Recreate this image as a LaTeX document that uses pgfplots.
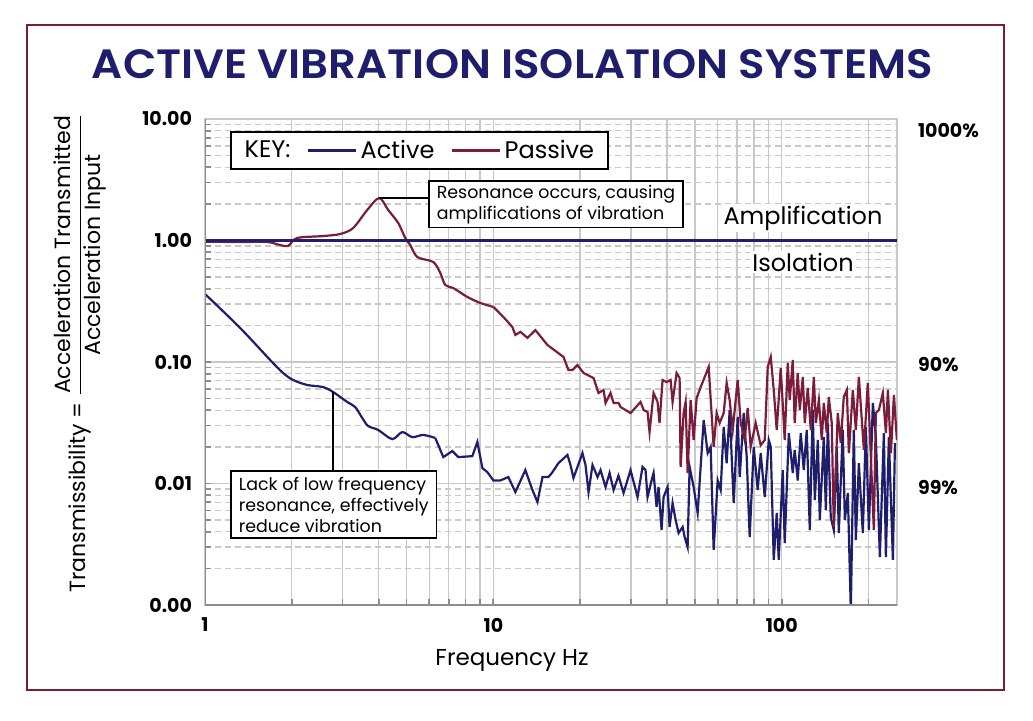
\documentclass[border=0pt]{standalone}
\usepackage{pgfplots}
\pgfplotsset{compat=1.18}
\usepackage{fontspec}
\setmainfont{Poppins}
\newfontfamily\titlefont{Poppins SemiBold}
\definecolor{navy}{RGB}{31,30,108}
\definecolor{maroon}{RGB}{122,28,58}
\definecolor{gridgray}{RGB}{200,200,200}
\definecolor{axgray}{RGB}{140,140,140}

\begin{document}
\begin{tikzpicture}
\path[use as bounding box, fill=white] (0,0) rectangle (516.5pt,360pt);
\begin{axis}[
  at={(102.5pt,57.5pt)}, anchor=south west,
  scale only axis, width=346pt, height=243pt,
  xmode=log, ymode=log,
  xmin=1, xmax=251, ymin=0.001, ymax=10,
  xtick={1,10,100}, xticklabels={1,10,100},
  minor xtick={2,3,4,5,6,7,8,9,20,30,40,50,60,70,80,90,200},
  ytick={0.001,0.01,0.1,1,10}, yticklabels={0.00,0.01,0.10,1.00,10.00},
  minor ytick={0.002,0.003,0.004,0.005,0.006,0.007,0.008,0.009,0.02,0.03,0.04,0.05,0.06,0.07,0.08,0.09,0.2,0.3,0.4,0.5,0.6,0.7,0.8,0.9,2,3,4,5,6,7,8,9},
  grid=both,
  major grid style={gridgray, line width=0.7pt},
  minor x grid style={gridgray, line width=0.7pt},
  minor y grid style={gridgray, line width=0.6pt, dash pattern=on 3pt off 2pt},
  axis line style={gridgray, line width=0.7pt},
  tick align=inside, tick pos=left,
  major tick length=3pt, minor tick length=3pt,
  tick style={axgray, line width=0.9pt},
  ticklabel style={font=\fontsize{9.5}{11}\selectfont\bfseries},
  xticklabel style={yshift=-3pt},
  yticklabel style={xshift=-3pt},
  legend columns=3,
  legend style={at={(0.036,0.975)}, anchor=north west, draw=black, line width=0.8pt, fill=white,
    font=\fontsize{12}{14}\selectfont, inner xsep=5pt, inner ysep=2pt,
    /tikz/every even column/.append style={column sep=6pt}},
  legend image code/.code={\draw[#1] (0pt,0pt) -- (24pt,0pt);},
]
\addlegendimage{empty legend}
\addlegendentry{KEY:}

% Active (smooth part)
\addplot[navy, line width=1.1pt, smooth, tension=0.5] coordinates {
(1.000,0.363) (1.323,0.191) (1.682,0.104) (1.866,0.0812) (2.021,0.0711) (2.261,0.0647)
(2.569,0.0622) (2.783,0.0566) (3.112,0.0469) (3.318,0.0426) (3.510,0.0346) (3.681,0.0297)
(3.987,0.0276) (4.460,0.0232) (4.831,0.0265) (5.233,0.0241) (5.713,0.0251) (6.290,0.0237)
};
\addlegendentry{Active}
% Active (noisy part)
\addplot[navy, line width=1.1pt, forget plot] coordinates {
(6.290,0.0237) (6.705,0.0165) (7.205,0.0185) (7.559,0.0165) (8.455,0.0168) (8.800,0.0220)
(9.158,0.0134) (9.532,0.0124) (10.00,0.0106) (10.57,0.0106) (11.27,0.0113) (11.92,0.00851)
(12.91,0.0129) (13.66,0.00884) (14.22,0.00704) (14.80,0.0113) (15.52,0.0113) (16.03,0.0124)
(16.81,0.0147) (18.07,0.0172) (18.51,0.0142) (18.96,0.0111) (20.37,0.0178) (20.87,0.0142)
(21.38,0.00851) (22.07,0.0142) (22.97,0.0113) (23.53,0.0129) (24.49,0.00936) (25.29,0.0122)
(26.11,0.00884) (27.16,0.0116) (28.28,0.00835) (29.90,0.0129) (31.62,0.00774) (32.91,0.0137)
(33.71,0.0129) (34.25,0.00774) (35.37,0.0106) (35.94,0.0122) (36.81,0.00641) (37.40,0.00936)
(38.31,0.00414) (38.93,0.00774) (40.19,0.00936) (40.83,0.00439) (41.83,0.00691) (42.85,0.00501)
(43.89,0.00391) (45.32,0.00439) (46.05,0.00363) (47.16,0.00300) (47.92,0.0137) (49.48,0.00936)
(51.09,0.00572) (53.62,0.0333) (55.36,0.0178) (56.69,0.0200) (58.06,0.00284) (59.95,0.0106)
(61.41,0.00884) (62.90,0.0292) (64.42,0.0147) (65.98,0.0403) (68.13,0.00691) (70.35,0.0353)
(71.49,0.0113) (73.82,0.0380) (75.60,0.0165) (77.42,0.00363) (79.97,0.0200) (82.53,0.00884)
(84.53,0.0178) (87.30,0.00774) (90.14,0.0228) (91.60,0.0200) (93.80,0.00235) (96.08,0.00572)
(97.63,0.00235) (100.8,0.0129) (102.4,0.00324) (105.8,0.0260) (109.2,0.0122) (110.9,0.0189)
(113.6,0.0106) (116.4,0.0260) (119.2,0.0129) (122.1,0.0276) (125.1,0.00414) (128.1,0.0403)
(130.2,0.00731) (133.4,0.0228) (135.5,0.00501) (139.9,0.0241) (142.2,0.00605) (144.5,0.0315)
(147.9,0.00530) (151.5,0.00414) (155.2,0.0200) (157.7,0.00391) (162.8,0.0276) (165.5,0.00501)
(169.5,0.00835) (173.6,0.0009) (177.8,0.0276) (180.7,0.00343) (185.1,0.0147) (191.1,0.00391)
(195.8,0.0292) (200.5,0.00414) (207.0,0.0460) (212.0,0.0241) (218.9,0.00248) (226.0,0.0260)
(229.7,0.00248) (235.2,0.0241) (242.9,0.00235) (246.9,0.0215)
};

% Passive (smooth part)
\addplot[maroon, line width=1.1pt, smooth, tension=0.5] coordinates {
(1.000,0.977) (1.323,0.972) (1.642,0.972) (1.822,0.918) (1.942,0.901) (2.086,1.048)
(2.569,1.088) (2.943,1.131) (3.265,1.267) (3.652,1.782) (4.019,2.237) (4.319,1.782)
(4.679,1.393) (4.949,1.048) (5.150,0.918) (5.447,0.731) (6.190,0.665) (6.546,0.540)
(6.813,0.430) (7.263,0.406) (8.124,0.343) (9.013,0.306) (10.00,0.284)
};
\addlegendentry{Passive}
% Passive (noisy part)
\addplot[maroon, line width=1.1pt, forget plot] coordinates {
(10.00,0.284) (10.83,0.235) (11.64,0.194) (11.92,0.167) (12.41,0.177) (13.13,0.158)
(13.99,0.183) (15.40,0.138) (17.51,0.110) (18.21,0.0859) (18.81,0.0859) (19.57,0.0945)
(20.54,0.0812) (22.25,0.0738) (23.15,0.0556) (24.10,0.0588) (24.49,0.0460) (25.49,0.0556)
(26.11,0.0460) (27.16,0.0460) (27.61,0.0426) (29.90,0.0380) (32.39,0.0469) (33.18,0.0403)
(34.25,0.0388) (34.80,0.0265) (35.94,0.0556) (37.10,0.0469) (37.70,0.0315) (38.62,0.0711)
(39.87,0.0684) (41.17,0.0711) (41.83,0.0469) (43.19,0.0812) (44.24,0.0738) (44.60,0.0137)
(45.68,0.0380) (46.42,0.0469) (47.16,0.0122) (48.31,0.0487) (49.48,0.0228) (50.68,0.0505)
(52.35,0.0622) (55.80,0.0910) (58.06,0.0200) (59.47,0.0380) (60.92,0.0315) (62.90,0.0380)
(64.42,0.0672) (65.98,0.0487) (67.60,0.0276) (70.35,0.0711) (72.06,0.0315) (74.40,0.0228)
(76.20,0.0418) (78.05,0.0200) (81.20,0.0315) (84.53,0.0207) (87.30,0.0228) (89.42,0.0910)
(91.60,0.110) (93.80,0.0588) (96.08,0.0276) (99.20,0.0893) (102.4,0.0228) (104.9,0.0981)
(106.6,0.0487) (109.2,0.104) (110.9,0.0315) (113.6,0.0812) (115.5,0.0403) (118.3,0.0752)
(120.2,0.0315) (123.1,0.0611) (126.1,0.0276) (129.2,0.0752) (131.3,0.0315) (134.5,0.0487)
(137.7,0.0228) (139.9,0.0460) (143.3,0.0260) (145.6,0.0515) (149.1,0.0315) (151.5,0.00439)
(156.4,0.0380) (160.2,0.0215) (164.1,0.0515) (168.2,0.0588) (170.9,0.0178) (176.4,0.0588)
(180.7,0.0276) (185.1,0.0752) (192.7,0.0189) (198.9,0.0672) (203.7,0.0165) (208.6,0.00414)
(212.0,0.0380) (217.2,0.0403) (224.2,0.0556) (229.7,0.0260) (233.4,0.0588) (239.1,0.0178)
(244.9,0.0535) (250.8,0.0228)
};

% Amplification / isolation boundary
\addplot[navy, line width=1.3pt, forget plot] coordinates {(1,1) (251,1)};

\draw[axgray, line width=1.3pt] (rel axis cs:0,1) -- (rel axis cs:0,0) -- (rel axis cs:1,0);
\end{axis}

\begin{scope}[x=0.5pt, y=-0.5pt, yshift=360pt]
\draw[maroon, line width=1.3pt] (27,25) rectangle (1004,690);
\node[text=navy] at (512.5,64) {\resizebox{420.5pt}{14.5pt}{\fontsize{20}{24}\selectfont\titlefont ACTIVE VIBRATION ISOLATION SYSTEMS}};

\node[anchor=west, font=\fontsize{9.5}{11}\selectfont\bfseries] at (911,131) {1000\%};
\node[anchor=west, font=\fontsize{9.5}{11}\selectfont\bfseries] at (911,365) {90\%};
\node[anchor=west, font=\fontsize{9.5}{11}\selectfont\bfseries] at (911,488) {99\%};

\node[fill=white, inner sep=1pt, font=\fontsize{12}{14}\selectfont] at (803,218) {Amplification};
\node[fill=white, inner sep=1pt, font=\fontsize{12}{14}\selectfont] at (803,262) {Isolation};

\draw[black, line width=0.8pt] (379,198) -- (428,198);
\node[draw=black, line width=0.8pt, fill=white, anchor=north west, align=left,
  font=\fontsize{8.7}{10.5}\selectfont, inner xsep=4pt, inner ysep=2pt] at (428,180)
  {Resonance occurs, causing\\amplifications of vibration};

\draw[black, line width=0.8pt] (333,392) -- (333,470);
\node[draw=black, line width=0.8pt, fill=white, anchor=north west, align=left,
  font=\fontsize{8.7}{10.5}\selectfont, inner xsep=4pt, inner ysep=3pt] at (230,470)
  {Lack of low frequency\\resonance, effectively\\reduce vibration};

\node[font=\fontsize{11.5}{13}\selectfont] at (512,660) {Frequency Hz};
\node[rotate=90, font=\fontsize{11}{13}\selectfont] at (80,353)
  {Transmissibility = ${\displaystyle\frac{\mbox{Acceleration Transmitted}}{\mbox{Acceleration Input}}}$};
\end{scope}
\end{tikzpicture}
\end{document}
